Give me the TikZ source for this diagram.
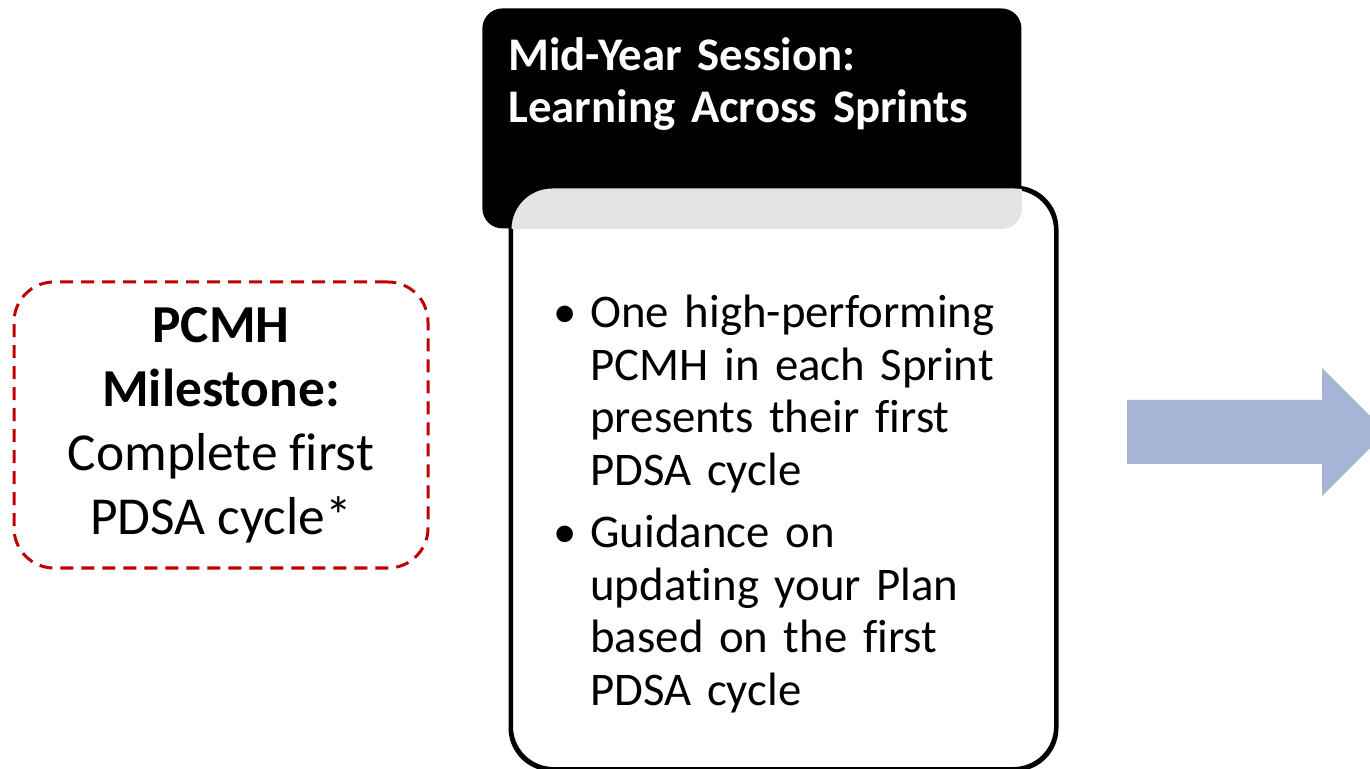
\documentclass[tikz,border=0pt]{standalone}
\usepackage{fontspec}
\setmainfont[Ligatures=NoCommon]{Carlito}
\usepackage{tikz}
\usetikzlibrary{positioning}
\definecolor{msred}{RGB}{192,0,0}
\definecolor{stripgrey}{RGB}{228,228,228}
\definecolor{flowblue}{RGB}{166,180,214}

\begin{document}
\begin{tikzpicture}[x=0.5pt, y=-0.5pt,
		milestone/.style={draw=msred, line width=1.5pt, dash pattern=on 6.5pt off 4pt,
			rounded corners=20pt, minimum width=207pt, minimum height=143pt,
			align=center, font=\fontsize{26.7}{32}\selectfont},
		header/.style={fill=black, rounded corners=10pt, minimum width=269.5pt,
			minimum height=110pt, inner sep=0pt},
		panel/.style={draw=black, fill=white, line width=1.5pt, rounded corners=21pt,
			minimum width=272pt, minimum height=290pt, inner sep=0pt},
		bullets/.style={anchor=base west, inner sep=0pt, text width=240pt, align=left,
			font=\fontsize{23.4}{26.2}\selectfont}]
	\useasboundingbox (0,0) rectangle (1370,769);

	% milestone box on the left
	\node[milestone] (milestone) at (221,425)
		{\textbf{PCMH}\\ \textbf{Milestone:}\\ Complete first\\ PDSA cycle*};

	% session header and body
	\node[header, anchor=north west] (head) at (482,8) {};
	\node[panel, anchor=north west] (panel) at (510,187) {};
	\begin{scope}
		\clip[rounded corners=10pt] (head.north west) rectangle (head.south east);
		\fill[stripgrey, rounded corners=21pt] (panel.south west) rectangle (panel.north east);
	\end{scope}
	\draw[line width=1.5pt, rounded corners=21pt] (panel.south west) rectangle (panel.north east);

	\node[anchor=base west, inner sep=0pt, text width=260pt, align=left, text=white,
		font=\fontsize{23.4}{26}\selectfont\bfseries] (headtext) at (508,71)
		{Mid-Year Session:\\ Learning Across Sprints};

	\node[bullets] (item1) at (590,328)
		{\llap{\textbullet\hspace{7pt}}One high-performing\\ PCMH in each Sprint\\ presents their first\\ PDSA cycle};
	\node[bullets] (item2) at (590,548)
		{\llap{\textbullet\hspace{7pt}}Guidance on\\ updating your Plan\\ based on the first\\ PDSA cycle};

	% arrow to the next step
	\fill[flowblue] (1127,400) -- (1322,400) -- (1322,368) -- (1386,432)
		-- (1322,496) -- (1322,464) -- (1127,464) -- cycle;
\end{tikzpicture}
\end{document}
